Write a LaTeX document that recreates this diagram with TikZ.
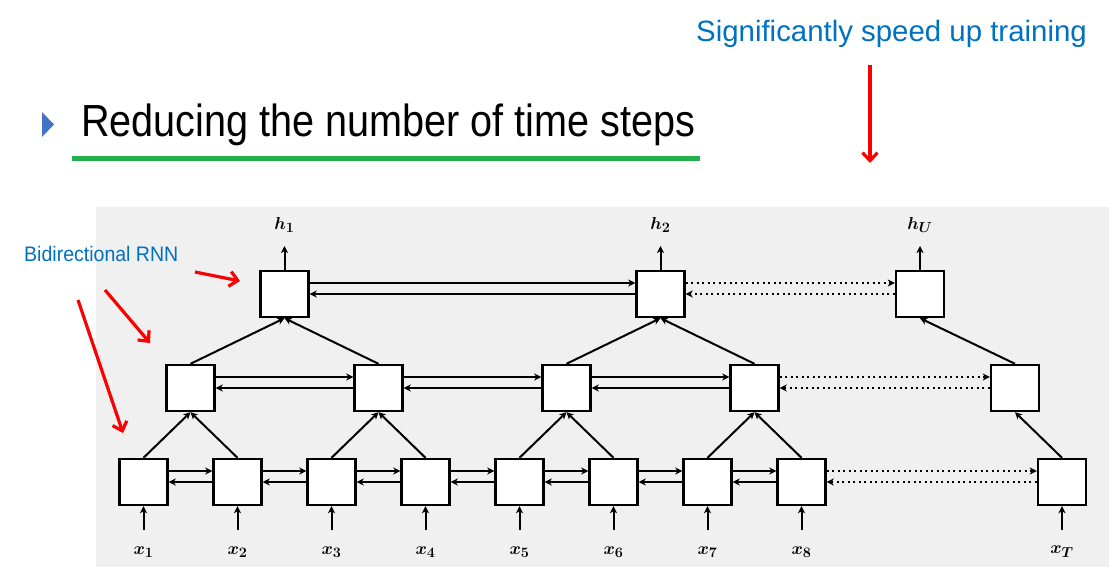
\documentclass[tikz,border=0pt]{standalone}
\usepackage{fontspec}
\setmainfont{Liberation Sans}
\newfontfamily\titlefont[FakeStretch=0.88]{Liberation Sans}
\newfontfamily\notefont[FakeStretch=0.93]{Liberation Sans}
\usetikzlibrary{arrows.meta}
\definecolor{bgray}{HTML}{F0F0F0}
\definecolor{bulletblue}{HTML}{4472C4}
\definecolor{noteblue}{HTML}{0070C0}
\definecolor{linegreen}{RGB}{34,177,76}
\definecolor{arrowred}{RGB}{250,0,0}
\begin{document}
\begin{tikzpicture}[x=1pt,y=-1pt,
  cell/.style={draw=black,fill=white,line width=2.4pt,minimum width=48pt,minimum height=46pt,inner sep=0pt},
  conn/.style={line width=2pt,-{Stealth[length=7pt,width=7pt,inset=2pt]}},
  dotconn/.style={conn,dash pattern=on 2pt off 3.5pt},
  redarrow/.style={arrowred,line width=3.2pt,-{Straight Barb[length=8pt,width=15pt]}},
  lab/.style={font=\fontsize{19}{22}\selectfont\boldmath,inner sep=0pt}
]
\useasboundingbox (0,0) rectangle (1120,577);
\fill[bgray] (96,207) rectangle (1109,567);

% header
\node[anchor=base west,inner sep=0pt,font=\titlefont\fontsize{45}{54}\selectfont] (title) at (81,137) {Reducing the number of time steps};
\fill[bulletblue] (42,112) -- (54,124.5) -- (42,137) -- cycle;
\draw[linegreen,line width=4.5pt] (72,158.5) -- (700,158.5);
\node[anchor=base west,inner sep=0pt,text=noteblue,font=\fontsize{29.4}{34}\selectfont] (speed) at (696,42) {Significantly speed up training};
\node[anchor=base west,inner sep=0pt,text=noteblue,font=\notefont\fontsize{21}{25}\selectfont] (bidir) at (24,262) {Bidirectional RNN};

% bottom row
\foreach \i/\x in {1/143.5,2/237.5,3/331.5,4/425.5,5/519.5,6/613.5,7/707.5,8/801.5,T/1062}{
  \node[cell] (b\i) at (\x,482) {};
  \node[lab] (lx\i) at (\x,552) {$x_{\i}$};
  \coordinate (in\i) at (\x,530);
  \draw[conn] (in\i) -- (b\i);
}
% middle row
\foreach \i/\x in {1/190.5,2/378.5,3/566.5,4/754.5,5/1015}{
  \node[cell] (m\i) at (\x,388) {};
}
% top row
\foreach \i/\x in {1/284.5,2/660.5,U/920}{
  \node[cell] (t\i) at (\x,294) {};
  \node[lab] (lh\i) at (\x,225) {$h_{\i}$};
  \coordinate (out\i) at (\x,246);
  \draw[conn] (t\i) -- (out\i);
}

% horizontal recurrent connections
\foreach \a/\b in {b1/b2,b2/b3,b3/b4,b4/b5,b5/b6,b6/b7,b7/b8,m1/m2,m2/m3,m3/m4,t1/t2}{
  \draw[conn] ([yshift=11pt]\a.east) -- ([yshift=11pt]\b.west);
  \draw[conn] (\b.west) -- (\a.east);
}
\foreach \a/\b in {b8/bT,m4/m5,t2/tU}{
  \draw[dotconn] ([yshift=11pt]\a.east) -- ([yshift=11pt]\b.west);
  \draw[dotconn] (\b.west) -- (\a.east);
}

% pyramid connections
\foreach \c/\p in {b1/m1,b2/m1,b3/m2,b4/m2,b5/m3,b6/m3,b7/m4,b8/m4,bT/m5,m1/t1,m2/t1,m3/t2,m4/t2,m5/tU}{
  \draw[conn] (\c.north) -- (\p.south);
}

% red annotation arrows
\coordinate (r1s) at (870,65);  \coordinate (r1e) at (870,163);
\coordinate (r2s) at (195,272); \coordinate (r2e) at (240,281);
\coordinate (r3s) at (105,290); \coordinate (r3e) at (150,343);
\coordinate (r4s) at (78,300);  \coordinate (r4e) at (123,433);
\draw[redarrow] (r1s) -- (r1e);
\draw[redarrow] (r2s) -- (r2e);
\draw[redarrow] (r3s) -- (r3e);
\draw[redarrow] (r4s) -- (r4e);
\end{tikzpicture}
\end{document}
